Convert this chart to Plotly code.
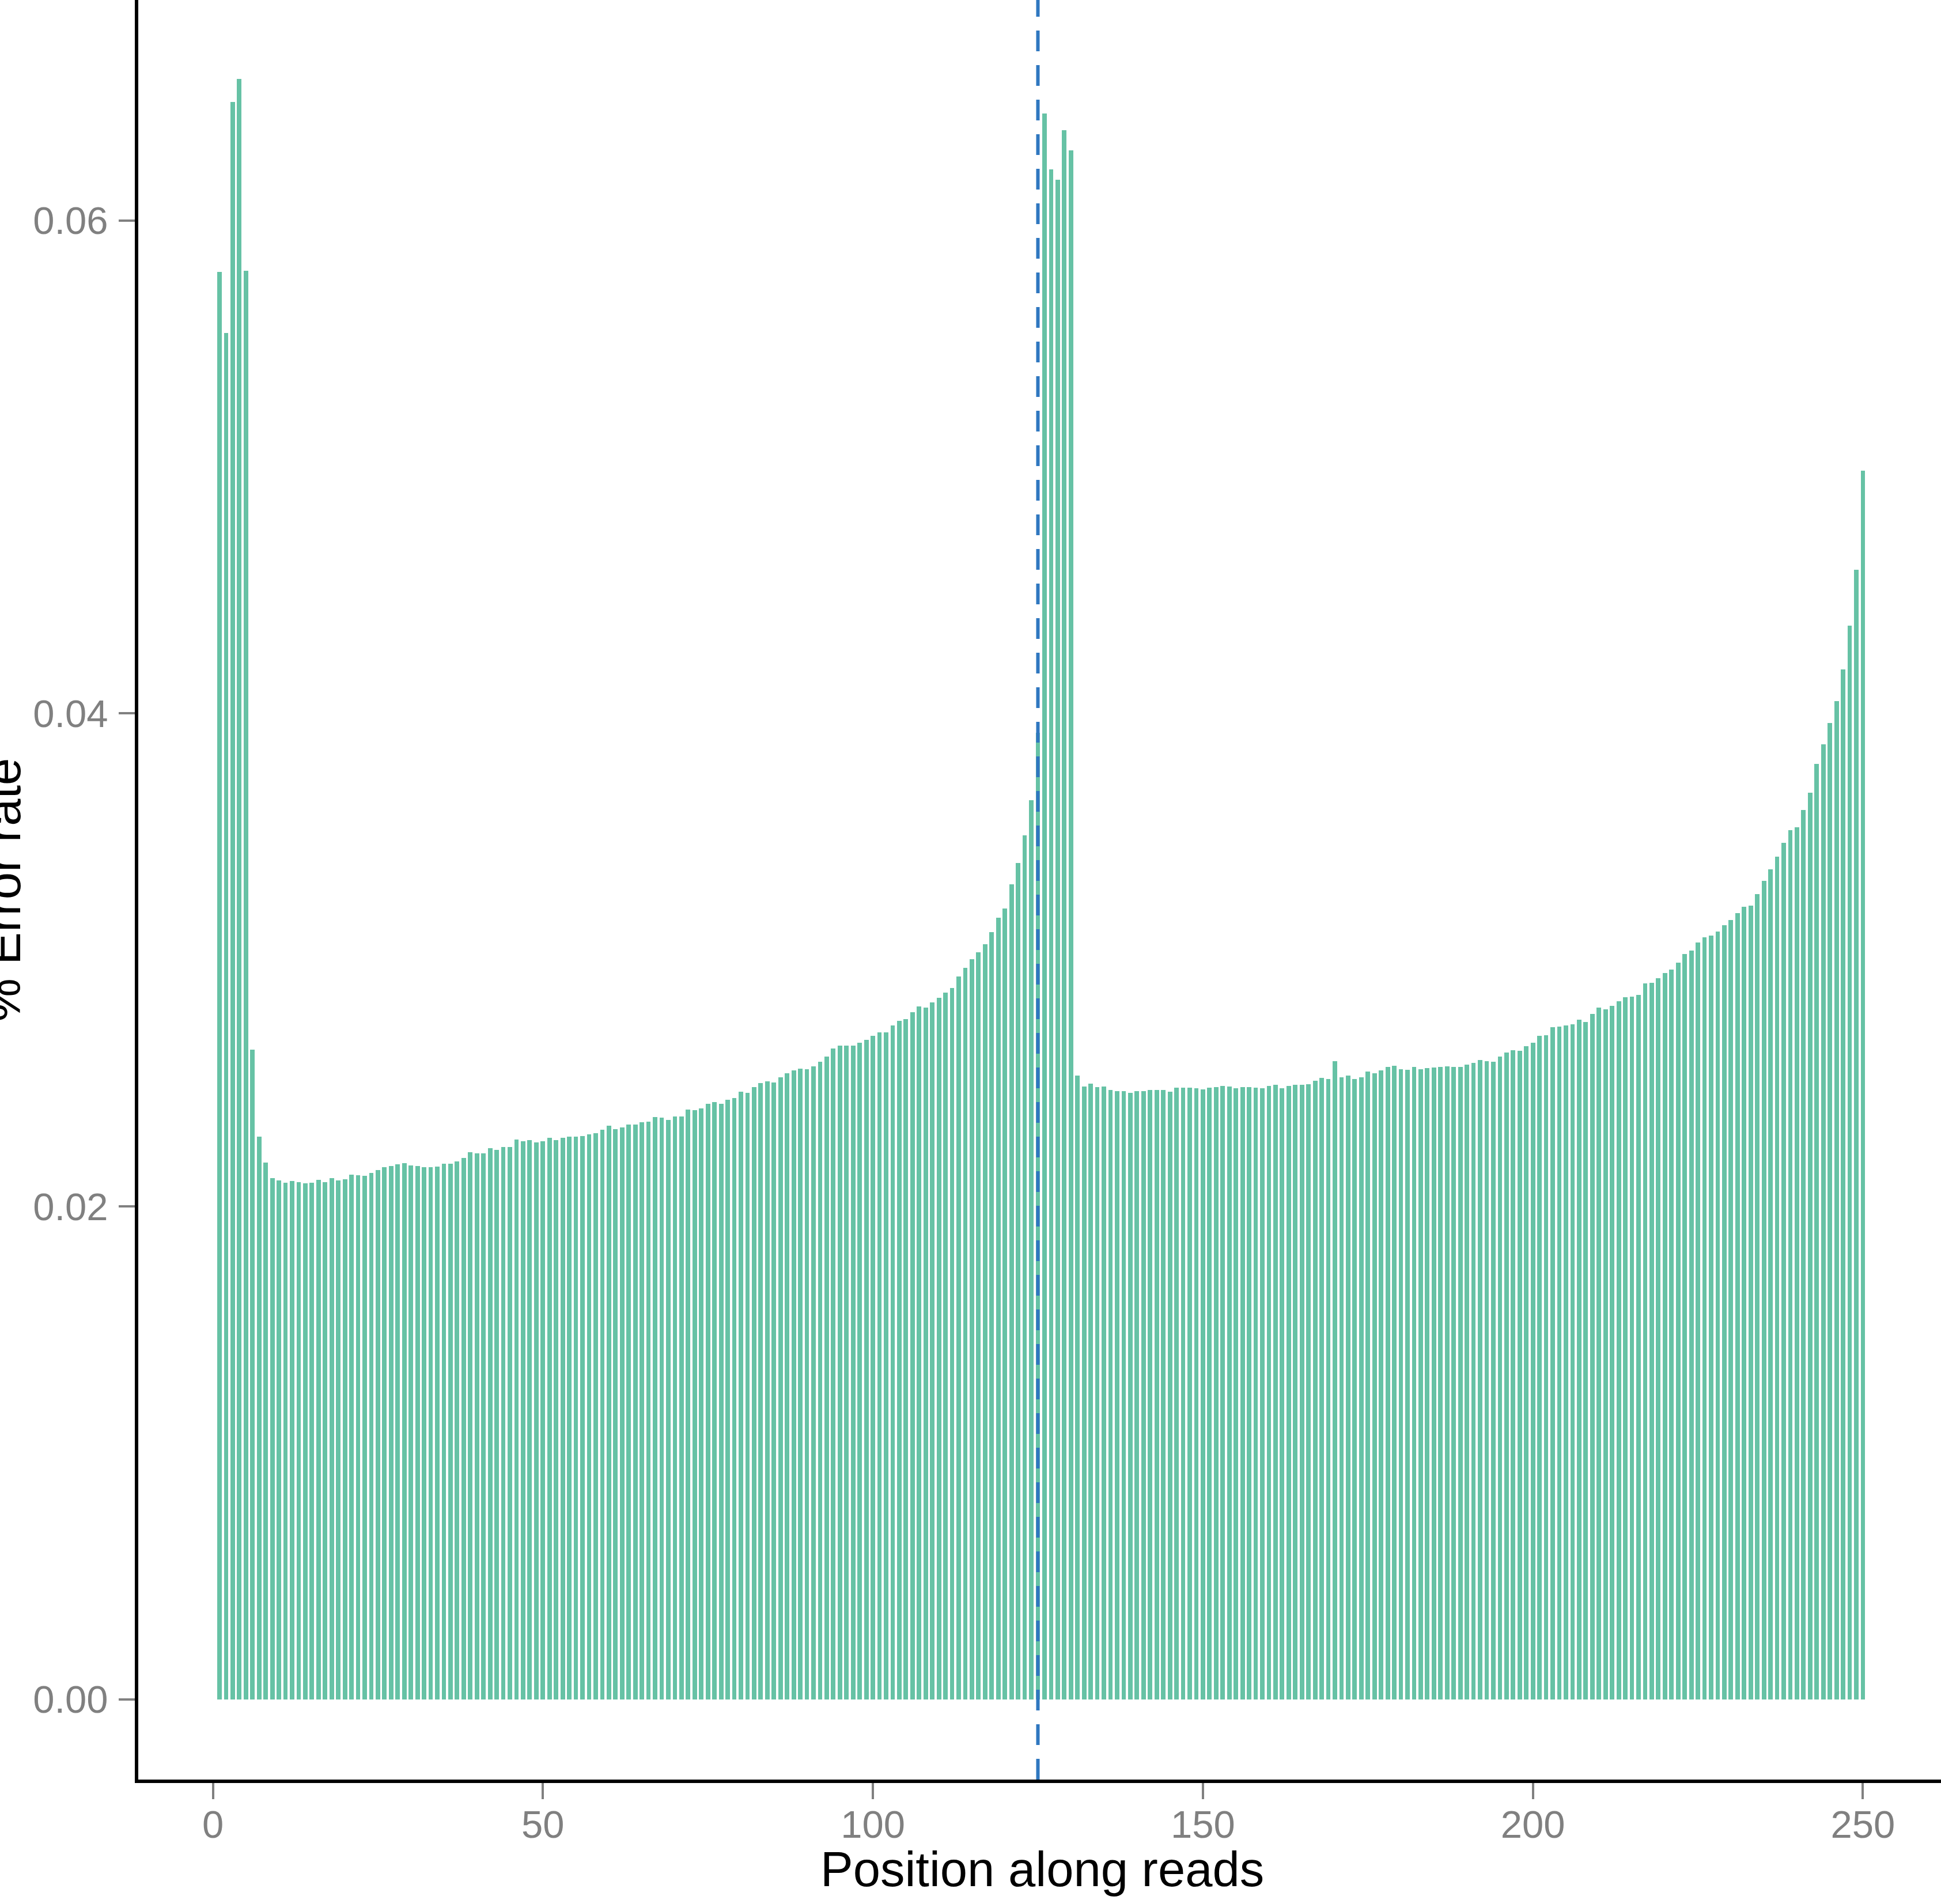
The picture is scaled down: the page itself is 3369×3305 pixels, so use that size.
import plotly.graph_objects as go

# Error rate per position along reads
err_001_050 = [0.05792, 0.05543, 0.06480, 0.06573, 0.05796, 0.02635, 0.02284, 0.02178, 0.02114, 0.02105,
               0.02096, 0.02103, 0.02099, 0.02094, 0.02097, 0.02109, 0.02099, 0.02115, 0.02105, 0.02111,
               0.02128, 0.02127, 0.02124, 0.02136, 0.02148, 0.02159, 0.02165, 0.02172, 0.02176, 0.02167,
               0.02165, 0.02160, 0.02160, 0.02162, 0.02173, 0.02173, 0.02183, 0.02197, 0.02220, 0.02215,
               0.02216, 0.02236, 0.02230, 0.02242, 0.02241, 0.02271, 0.02265, 0.02269, 0.02261, 0.02265]
err_051_100 = [0.02279, 0.02270, 0.02279, 0.02283, 0.02283, 0.02285, 0.02292, 0.02298, 0.02312, 0.02327,
               0.02314, 0.02321, 0.02333, 0.02333, 0.02341, 0.02345, 0.02363, 0.02360, 0.02352, 0.02364,
               0.02364, 0.02393, 0.02390, 0.02398, 0.02417, 0.02423, 0.02416, 0.02433, 0.02441, 0.02466,
               0.02462, 0.02484, 0.02501, 0.02507, 0.02502, 0.02523, 0.02540, 0.02552, 0.02560, 0.02556,
               0.02569, 0.02588, 0.02609, 0.02641, 0.02653, 0.02653, 0.02652, 0.02664, 0.02675, 0.02692]
err_101_150 = [0.02706, 0.02707, 0.02734, 0.02754, 0.02760, 0.02789, 0.02811, 0.02807, 0.02828, 0.02846,
               0.02868, 0.02887, 0.02934, 0.02968, 0.03003, 0.03032, 0.03064, 0.03112, 0.03172, 0.03208,
               0.03308, 0.03393, 0.03506, 0.03648, 0.03921, 0.06433, 0.06206, 0.06164, 0.06367, 0.06285,
               0.02532, 0.02487, 0.02498, 0.02485, 0.02487, 0.02473, 0.02469, 0.02469, 0.02460, 0.02467,
               0.02469, 0.02473, 0.02473, 0.02473, 0.02466, 0.02481, 0.02483, 0.02483, 0.02480, 0.02474]
err_151_200 = [0.02483, 0.02485, 0.02489, 0.02486, 0.02480, 0.02484, 0.02484, 0.02483, 0.02480, 0.02489,
               0.02493, 0.02479, 0.02490, 0.02493, 0.02493, 0.02495, 0.02510, 0.02522, 0.02518, 0.02589,
               0.02525, 0.02530, 0.02517, 0.02525, 0.02547, 0.02541, 0.02551, 0.02566, 0.02571, 0.02557,
               0.02554, 0.02565, 0.02557, 0.02561, 0.02563, 0.02565, 0.02568, 0.02565, 0.02566, 0.02576,
               0.02583, 0.02595, 0.02589, 0.02588, 0.02607, 0.02625, 0.02634, 0.02632, 0.02650, 0.02664]
err_201_250 = [0.02693, 0.02695, 0.02727, 0.02730, 0.02735, 0.02738, 0.02757, 0.02748, 0.02780, 0.02806,
               0.02800, 0.02814, 0.02833, 0.02848, 0.02852, 0.02858, 0.02906, 0.02908, 0.02926, 0.02947,
               0.02962, 0.02989, 0.03024, 0.03037, 0.03070, 0.03092, 0.03099, 0.03115, 0.03140, 0.03163,
               0.03190, 0.03215, 0.03221, 0.03268, 0.03321, 0.03368, 0.03420, 0.03475, 0.03526, 0.03539,
               0.03608, 0.03678, 0.03796, 0.03874, 0.03962, 0.04051, 0.04178, 0.04357, 0.04584, 0.04985]

error_rate = err_001_050 + err_051_100 + err_101_150 + err_151_200 + err_201_250
positions = list(range(1, len(error_rate) + 1))

read_split = 125  # dashed line: boundary between read 1 and read 2

x_ticks = [0, 50, 100, 150, 200, 250]
x_tick_labels = ["0", "50", "100", "150", "200", "250"]
y_ticks = [0.00, 0.02, 0.04, 0.06]
y_tick_labels = ["0.00", "0.02", "0.04", "0.06"]

x_title = "Position along reads"
y_title = "% Error rate"

FONT = "Liberation Sans, Arial, Helvetica, sans-serif"
TICK_GREY = "#808080"

fig = go.Figure()
fig.add_trace(go.Bar(
    x=positions, y=error_rate, width=0.68,
    marker=dict(color="#66C2A5", line=dict(width=0)),
    showlegend=False,
))

fig.add_vline(x=read_split, line=dict(color="#2F77C0", width=6, dash="36px,24px"), layer="above")

W, H = 3369, 3305
L, B = 240, 216
fig.update_layout(
    width=W, height=H,
    margin=dict(l=L, r=0, t=0, b=B, pad=0),
    plot_bgcolor="white", paper_bgcolor="white",
    font=dict(family=FONT),
    bargap=0,
    xaxis=dict(
        range=[-11.304, 261.83],
        tickvals=x_ticks, ticktext=x_tick_labels,
        showline=True, linecolor="black", linewidth=6,
        ticks="outside", ticklen=28, tickwidth=4, tickcolor=TICK_GREY,
        tickfont=dict(size=67, color=TICK_GREY, family=FONT),
        ticklabelstandoff=-13,
        showgrid=False, zeroline=False,
    ),
    yaxis=dict(
        range=[-0.003248, 0.068941],
        tickvals=y_ticks, ticktext=y_tick_labels,
        showline=True, linecolor="black", linewidth=6,
        ticks="outside", ticklen=28, tickwidth=4, tickcolor=TICK_GREY,
        tickfont=dict(size=67, color=TICK_GREY, family=FONT),
        ticklabelstandoff=5,
        showgrid=False, zeroline=False,
    ),
    annotations=[
        dict(text=x_title, xref="paper", yref="paper", x=0.5014, y=-0.0505,
             xanchor="center", yanchor="middle", showarrow=False,
             font=dict(size=85, color="black", family=FONT)),
        dict(text=y_title, xref="paper", yref="paper", x=-0.0750, y=0.5,
             xanchor="center", yanchor="middle", textangle=-90, showarrow=False,
             font=dict(size=85, color="black", family=FONT)),
    ],
)

fig.write_html("out.html", config={"displayModeBar": False},
               post_script="document.body.style.margin='0';document.body.style.overflow='hidden';")
